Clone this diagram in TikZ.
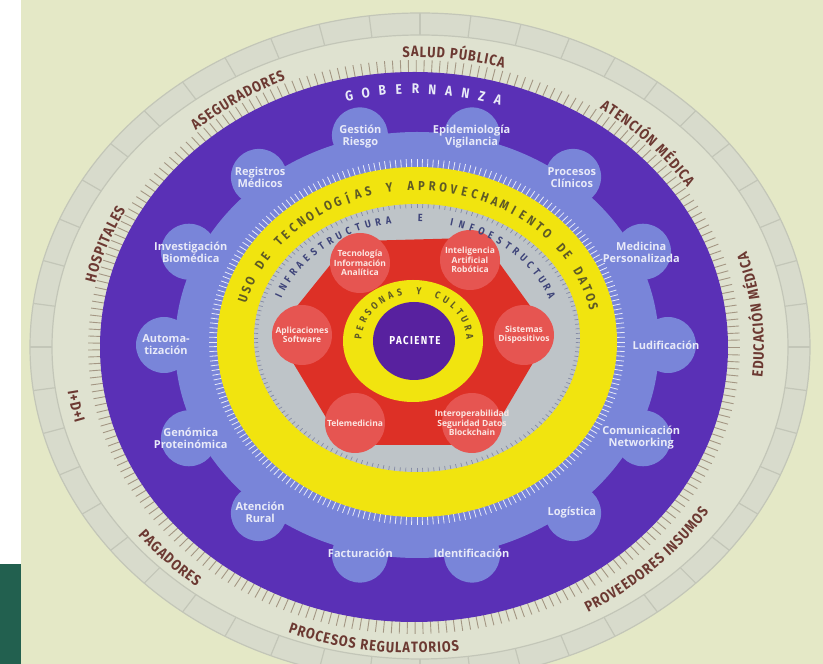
\documentclass[tikz,border=0pt]{standalone}
\usepackage{fontspec}
\setmainfont{Open Sans}
\newfontfamily\bannerfont[FakeStretch=0.85]{Fira Sans}
\usepackage{tikz}
\usetikzlibrary{decorations.text}
\definecolor{paper}{HTML}{E4E8C6}
\definecolor{slidegreen}{HTML}{22604F}
\definecolor{ringgrey}{HTML}{D8DBCC}
\definecolor{ringline}{HTML}{C3C6B8}
\definecolor{cream}{HTML}{DFE2D0}
\definecolor{tickbrown}{HTML}{A39683}
\definecolor{labelbrown}{HTML}{6C3932}
\definecolor{govpurple}{HTML}{5A30B6}
\definecolor{gearblue}{HTML}{7985D9}
\definecolor{gearwhite}{HTML}{E8EAF8}
\definecolor{techyellow}{HTML}{F1E40F}
\definecolor{olivetext}{HTML}{5E5A26}
\definecolor{infragrey}{HTML}{BEC4C8}
\definecolor{infratext}{HTML}{3E4479}
\definecolor{redbody}{HTML}{DD3026}
\definecolor{redbump}{HTML}{E65551}
\definecolor{redtext}{HTML}{FCE6E2}
\definecolor{patientpurple}{HTML}{58219F}
\newcommand{\bannerstyle}{\color{labelbrown}\bannerfont\bfseries\fontsize{15}{15}\selectfont\kern1pt}
\newcommand{\ringletters}[8]{ % Takes centre x, centre y, x radius, y radius, first angle, angle step, letter style, letters
    \foreach \ch [count=\k] in {#8} {
        \pgfmathsetmacro{\tpos}{#5-(\k-1)*#6}
        \pgfmathsetmacro{\trot}{atan2(-(#4)*cos(\tpos), (#3)*sin(\tpos))}
        \node[#7, rotate=\trot] (ltr\k) at ({#1+#3*cos(\tpos)}, {#2+#4*sin(\tpos)}) {\ch};
    }
}
\newcommand{\cwlabel}[2]{ % Takes centre angle and label text, bent and read clockwise
    \path[decorate, decoration={text along path, text align=center, text={|\bannerstyle|#2}}]
        ({414+327*cos(#1+25)}, {317+290*sin(#1+25)}) arc[start angle=#1+25, end angle=#1-25, x radius=327, y radius=290];
}
\newcommand{\ccwlabel}[2]{ % Takes centre angle and label text, bent and read anticlockwise
    \path[decorate, decoration={text along path, text align=center, text={|\bannerstyle|#2}}]
        ({414+350*cos(#1-25)}, {317+306*sin(#1-25)}) arc[start angle=#1-25, end angle=#1+25, x radius=350, y radius=306];
}
\tikzset{
    bumplabel/.style={align=center, text=gearwhite, inner sep=0pt, font=\bfseries\fontsize{11}{12}\selectfont},
    redlabel/.style={align=center, text=redtext, inner sep=0pt, font=\bfseries\fontsize{8.5}{9.5}\selectfont},
    govletter/.style={text=gearwhite, inner sep=0pt, font=\bannerfont\bfseries\fontsize{14}{14}\selectfont},
    techletter/.style={text=olivetext, inner sep=0pt, font=\bannerfont\bfseries\fontsize{13}{13}\selectfont},
    infraletter/.style={text=infratext, inner sep=0pt, font=\bannerfont\bfseries\fontsize{10.5}{10.5}\selectfont},
    personletter/.style={text=olivetext, inner sep=0pt, font=\bannerfont\bfseries\fontsize{10}{10}\selectfont},
    patient/.style={text=white, inner sep=0pt, font=\bannerfont\bfseries\fontsize{11.5}{11.5}\selectfont\addfontfeature{LetterSpace=12}}
}
\begin{document}
\begin{tikzpicture}[x=1pt, y=1pt]
    \useasboundingbox (0,0) rectangle (823,664);
    \clip (0,0) rectangle (823,664);

    % Slide background
    \fill[paper] (0,0) rectangle (823,664);
    \fill[white] (0,0) rectangle (21,664);
    \fill[slidegreen] (0,0) rectangle (21,100);

    % Outer ring
    \filldraw[fill=ringgrey, draw=ringline, line width=1.2] (420,317) ellipse[x radius=390, y radius=334];
    \filldraw[fill=cream, draw=ringline, line width=1.2] (420,317) ellipse[x radius=368, y radius=312];
    \foreach \a in {0,7.5,...,352.5}
        \draw[ringline, line width=1.2] ({420+368*cos(\a)}, {317+312*sin(\a)}) -- ({420+390*cos(\a)}, {317+334*sin(\a)});

    % Ticks round the governance ring
    \foreach \a in {0,1.4,...,358.6}
        \draw[tickbrown, line width=0.9] ({414+312*cos(\a)}, {317+273*sin(\a)}) -- ({414+326*cos(\a)}, {317+287*sin(\a)});
    \fill[govpurple] (414,317) ellipse[x radius=314, y radius=275];

    % Gear
    \fill[gearblue] (417,319) ellipse[x radius=242, y radius=213];
    \foreach \k in {0,...,13}
        \fill[gearblue] ({416+252*cos(\k*360/14)}, {319+215*sin(\k*360/14)}) circle[radius=28];

    % Technology ring
    \foreach \a in {0,1.5,...,358.5}
        \draw[gearwhite, line width=0.8] ({417+196*cos(\a)}, {322+171*sin(\a)}) -- ({417+208*cos(\a)}, {322+183*sin(\a)});
    \fill[techyellow] (417,322) ellipse[x radius=200, y radius=175];
    \fill[infragrey] (417,326) ellipse[x radius=163, y radius=134];
    \foreach \a in {0,2,...,358}
        \draw[infratext!45!infragrey, line width=0.7] ({417+159*cos(\a)}, {326+130*sin(\a)}) -- ({417+163*cos(\a)}, {326+134*sin(\a)});

    % Red core
    \filldraw[fill=redbody, draw=redbody, line width=44, line join=round] (360,401) -- (470,404) -- (524,329) -- (472,241) -- (355,241) -- (302,329) -- cycle;
    \foreach \x/\y/\lbl [count=\k] in {360/401/Tecnología\\Información\\Analítica, 470/404/Inteligencia\\Artificial\\Robótica, 524/329/Sistemas\\Dispositivos, 472/241/Interoperabilidad\\Seguridad Datos\\Blockchain, 355/241/Telemedicina, 302/329/Aplicaciones\\Software} {
        \fill[redbump] (\x,\y) circle[radius=30];
        \node[redlabel] (red\k) at (\x,\y) {\lbl};
    }

    % Patient
    \fill[techyellow] (413,323) ellipse[x radius=70, y radius=61];
    \fill[patientpurple] (414,323) ellipse[x radius=41, y radius=39];
    \node[patient] (paciente) at (415,323) {PACIENTE};

    % Gear labels
    \foreach \lbl [count=\k from 0] in {Ludificación, Medicina\\Personalizada, Procesos\\Clínicos, Epidemiología\\Vigilancia, Gestión\\Riesgo, Registros\\Médicos, Investigación\\Biomédica, Automa-\\tización, Genómica\\Proteinómica, Atención\\Rural, Facturación, Identificación, Logística, Comunicación\\Networking}
        \node[bumplabel] (bump\k) at ({416+250*cos(\k*360/14)}, {319+214*sin(\k*360/14)}) {\lbl};

    % Ring titles
    \ringletters{414}{317}{288}{258}{103}{3.33}{govletter}{G,O,B,E,R,N,A,N,Z,A}
    \ringletters{417}{322}{181}{156}{164}{3.43}{techletter}{U,S,O,{},D,E,{},T,E,C,N,O,L,O,G,Í,A,S,{},Y,{},A,P,R,O,V,E,C,H,A,M,I,E,N,T,O,{},D,E,{},D,A,T,O,S}
    \ringletters{415}{325}{146}{121}{159}{4.18}{infraletter}{I,N,F,R,A,E,S,T,R,U,C,T,U,R,A,{},{},E,{},{},I,N,F,O,E,S,T,R,U,C,T,U,R,A}
    \ringletters{414}{323}{56}{50}{175}{10}{personletter}{P,E,R,S,O,N,A,S,{},Y,{},C,U,L,T,U,R,A}

    % Stakeholders
    \cwlabel{160}{HOSPITALES}
    \cwlabel{123}{ASEGURADORES}
    \cwlabel{83}{SALUD PÚBLICA}
    \cwlabel{44}{ATENCIÓN MÉDICA}
    \ccwlabel{6}{EDUCACIÓN MÉDICA}
    \ccwlabel{314}{PROVEEDORES INSUMOS}
    \ccwlabel{263}{PROCESOS REGULATORIOS}
    \ccwlabel{224}{PAGADORES}
    \ccwlabel{191}{I+D+I}
\end{tikzpicture}
\end{document}
